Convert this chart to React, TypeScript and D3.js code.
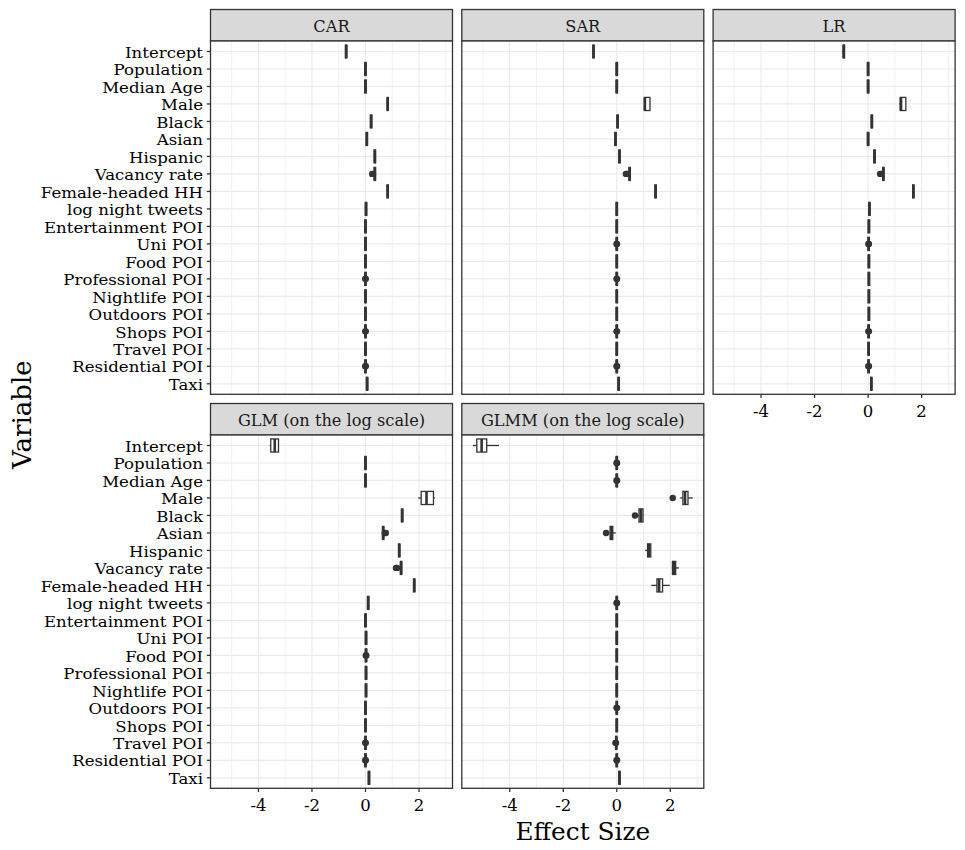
import * as d3 from "d3";

type Five = [number, number, number, number, number]; // lower whisker, q1, median, q3, upper whisker

const variables = [
  "Intercept", "Population", "Median Age", "Male", "Black", "Asian", "Hispanic",
  "Vacancy rate", "Female-headed HH", "log night tweets", "Entertainment POI",
  "Uni POI", "Food POI", "Professional POI", "Nightlife POI", "Outdoors POI",
  "Shops POI", "Travel POI", "Residential POI", "Taxi",
];

const models = ["CAR", "SAR", "LR", "GLM (on the log scale)", "GLMM (on the log scale)"];

// tiny helper for the boxes that are only a sliver wide
const thin = (m: number): Five => [m - 0.03, m - 0.025, m, m + 0.025, m + 0.03];

const carStats: Five[] = [
  [-0.76, -0.75, -0.72, -0.7, -0.69], thin(0), thin(0), [0.78, 0.81, 0.83, 0.85, 0.88],
  thin(0.21), thin(0.05), thin(0.35), thin(0.35), thin(0.83), thin(0.02),
  thin(0), thin(0), thin(0), thin(0), thin(0), thin(0), thin(0), thin(0), thin(0), thin(0.06),
];
const carOutliers: number[][] = [
  [], [], [], [], [], [], [], [0.25, 0.28], [], [],
  [], [], [], [-0.01, 0.01], [], [], [-0.01, 0.01], [], [-0.01, 0.01], [],
];

const sarStats: Five[] = [
  [-0.92, -0.89, -0.87, -0.85, -0.84], thin(0), thin(0), [1.02, 1.03, 1.05, 1.24, 1.25],
  thin(0.03), thin(-0.05), thin(0.1), thin(0.48), thin(1.45), thin(0),
  thin(0), thin(0), thin(0), thin(0), thin(0), thin(0), thin(0), thin(0), thin(0), thin(0.07),
];
const sarOutliers: number[][] = [
  [], [], [], [], [], [], [], [0.34, 0.38], [], [],
  [], [-0.01, 0.01], [], [-0.01, 0.01], [], [], [-0.01, 0.01], [], [-0.01, 0.01], [],
];

const lrStats: Five[] = [
  [-0.97, -0.93, -0.91, -0.88, -0.87], thin(0), thin(0), [1.17, 1.2, 1.23, 1.41, 1.42],
  thin(0.14), thin(0), thin(0.24), thin(0.57), thin(1.69), thin(0.05),
  thin(0.03), thin(0.02), thin(0.03), thin(0.03), thin(0.03), thin(0.03), thin(0.02), thin(0.02), thin(0.02), thin(0.12),
];
const lrOutliers: number[][] = [
  [], [], [], [], [], [], [], [0.45, 0.48], [], [],
  [], [0.01, 0.03], [], [], [], [], [0.01, 0.03], [], [0.01, 0.03], [],
];

const glmStats: Five[] = [
  [-3.58, -3.54, -3.39, -3.25, -3.24], thin(0), thin(0), [1.97, 2.08, 2.28, 2.54, 2.59],
  thin(1.37), thin(0.66), thin(1.26), thin(1.33), thin(1.82), thin(0.1),
  thin(0), thin(0.02), thin(0.02), thin(0.02), thin(0.02), thin(0), thin(0), thin(0), thin(0), thin(0.13),
];
const glmOutliers: number[][] = [
  [], [], [], [], [], [0.72, 0.76], [], [1.14, 1.18], [], [],
  [], [], [0.01, 0.03], [], [], [], [], [-0.01, 0.01], [-0.01, 0.01], [],
];

const glmmStats: Five[] = [
  [-5.38, -5.23, -5.05, -4.86, -4.4], thin(0), thin(0), [2.37, 2.47, 2.55, 2.66, 2.84],
  [0.75, 0.83, 0.9, 0.98, 1.0], [-0.27, -0.25, -0.2, -0.15, -0.04], [1.06, 1.15, 1.2, 1.27, 1.28],
  [2.06, 2.08, 2.14, 2.2, 2.32], [1.29, 1.5, 1.58, 1.71, 1.98], thin(0),
  thin(0), thin(0), thin(0), thin(0), thin(0), thin(0), thin(0), thin(-0.02), thin(0), thin(0.1),
];
const glmmOutliers: number[][] = [
  [], [-0.01, 0.01], [-0.01, 0.01], [2.09], [0.68], [-0.4], [], [], [], [-0.01, 0.01],
  [], [], [], [], [], [-0.01, 0.01], [], [-0.05, -0.03], [-0.01, 0.01], [],
];

const allStats = [carStats, sarStats, lrStats, glmStats, glmmStats];
const allOutliers = [carOutliers, sarOutliers, lrOutliers, glmOutliers, glmmOutliers];

const majorTicks = [-4, -2, 0, 2];
const minorTicks = [-5, -3, -1, 1, 3];

const FONT = "DejaVu Serif";
const INK = "#333333";
const PANEL_W = 242;
const PANEL_H = 353.3;
const STRIP_H = 31.5;
const COL_X = [210.5, 461.8, 713.1];
const ROW_Y = [41, 435]; // panel tops
const BOX_W = 0.75;
const LW = 1.3;

// x range like ggplot: data range plus 5% each side
const values = allStats.flat(2).concat(allOutliers.flat(2));
const [xmin, xmax] = d3.extent(values) as [number, number];
const pad = (xmax - xmin) * 0.05;
const x = d3.scaleLinear().domain([xmin - pad, xmax + pad]).range([0, PANEL_W]);
const y = d3.scalePoint<string>().domain(variables).range([0, PANEL_H]).padding(0.6);

const Panel = ({ idx }: { idx: number }) => {
  const col = idx % 3;
  const row = Math.floor(idx / 3);
  const left = COL_X[col];
  const top = ROW_Y[row];
  const stats = allStats[idx];
  const outliers = allOutliers[idx];
  const boxH = y.step() * BOX_W;
  const showXAxis = row === 1 || col === 2;

  return (
    <g>
      {/* strip */}
      <rect x={left} y={top - STRIP_H} width={PANEL_W} height={STRIP_H} fill="#D9D9D9" stroke={INK} strokeWidth={LW} />
      <text x={left + PANEL_W / 2} y={top - STRIP_H / 2 + 1} textAnchor="middle" dominantBaseline="central"
        fontFamily={FONT} fontSize={16.2} fill="#1A1A1A">{models[idx]}</text>

      <g transform={`translate(${left},${top})`}>
        <rect width={PANEL_W} height={PANEL_H} fill="white" />
        {minorTicks.map((t) => (
          <line key={"mi" + t} x1={x(t)} x2={x(t)} y1={0} y2={PANEL_H} stroke="#EBEBEB" strokeWidth={0.7} />
        ))}
        {majorTicks.map((t) => (
          <line key={"ma" + t} x1={x(t)} x2={x(t)} y1={0} y2={PANEL_H} stroke="#EBEBEB" strokeWidth={1.2} />
        ))}
        {variables.map((v) => (
          <line key={"h" + v} x1={0} x2={PANEL_W} y1={y(v)} y2={y(v)} stroke="#EBEBEB" strokeWidth={1.2} />
        ))}

        {stats.map((s, i) => {
          const cy = y(variables[i])!;
          const [lo, q1, med, q3, hi] = s;
          return (
            <g key={i}>
              <line x1={x(lo)} x2={x(q1)} y1={cy} y2={cy} stroke={INK} strokeWidth={LW} />
              <line x1={x(q3)} x2={x(hi)} y1={cy} y2={cy} stroke={INK} strokeWidth={LW} />
              <rect x={x(q1)} y={cy - boxH / 2} width={x(q3) - x(q1)} height={boxH}
                fill="white" stroke={INK} strokeWidth={LW} />
              <line x1={x(med)} x2={x(med)} y1={cy - boxH / 2} y2={cy + boxH / 2} stroke={INK} strokeWidth={LW * 2} />
              {outliers[i].map((o, j) => (
                <circle key={j} cx={x(o)} cy={cy} r={3.2} fill={INK} />
              ))}
            </g>
          );
        })}

        <rect width={PANEL_W} height={PANEL_H} fill="none" stroke={INK} strokeWidth={LW} />

        {col === 0 &&
          variables.map((v) => (
            <g key={"yl" + v}>
              <line x1={-3.7} x2={0} y1={y(v)} y2={y(v)} stroke={INK} strokeWidth={LW} />
              {/* DejaVu is narrower than the original Palatino at the same height: stretch a little */}
              <text transform={`translate(-7.5,${y(v)! + 1}) scale(1.12,1)`} textAnchor="end"
                dominantBaseline="central" fontFamily={FONT} fontSize={14.8} fill="#000">{v}</text>
            </g>
          ))}

        {showXAxis &&
          majorTicks.map((t) => (
            <g key={"xl" + t}>
              <line x1={x(t)} x2={x(t)} y1={PANEL_H} y2={PANEL_H + 3.7} stroke={INK} strokeWidth={LW} />
              <text x={x(t)} y={PANEL_H + 17} textAnchor="middle" dominantBaseline="central" fontFamily={FONT}
                fontSize={16.5} fill="#000">{t}</text>
            </g>
          ))}
      </g>
    </g>
  );
};

export default function App() {
  return (
    <svg width={965} height={850} style={{ position: "absolute", left: 0, top: 0, background: "white" }}>
      <rect width={965} height={850} fill="white" />
      {models.map((m, i) => (
        <Panel key={m} idx={i} />
      ))}
      <text transform={`translate(31,${(ROW_Y[0] + ROW_Y[1] + PANEL_H) / 2}) rotate(-90)`} textAnchor="middle"
        fontFamily={FONT} fontSize={26} fill="#000">Variable</text>
      <text x={(COL_X[0] + COL_X[2] + PANEL_W) / 2} y={840} textAnchor="middle" fontFamily={FONT}
        fontSize={24.8} fill="#000">Effect Size</text>
    </svg>
  );
}
